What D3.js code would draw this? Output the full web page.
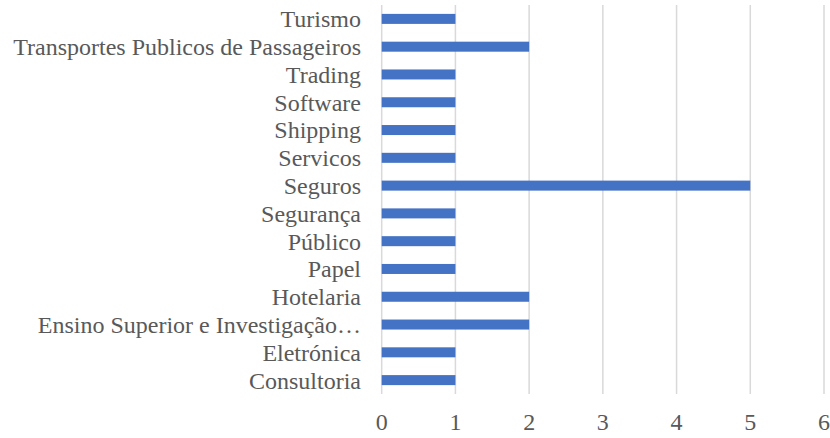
<!DOCTYPE html>
<html lang="pt">
<head>
    <meta charset="UTF-8">
    <title>Setores</title>
    <style>
        body { margin: 0; background: #ffffff; }
        svg { display: block; }
    </style>
    <script src="https://d3js.org/d3.v7.min.js"></script>
</head>
<body>
    <svg width="830" height="438"></svg>
    <script>
        const categories = ["Turismo", "Transportes Publicos de Passageiros", "Trading", "Software",
            "Shipping", "Servicos", "Seguros", "Segurança", "Público", "Papel", "Hotelaria",
            "Ensino Superior e Investigação…", "Eletrónica", "Consultoria"];
        const values = [1, 2, 1, 1, 1, 1, 5, 1, 1, 1, 2, 2, 1, 1];
        const ticks = [0, 1, 2, 3, 4, 5, 6];

        const svg = d3.select("svg");
        const plotLeft = 381.7, plotRight = 824, plotTop = 5, plotBottom = 394;
        const font = "Liberation Serif";

        const x = d3.scaleLinear().domain([0, 6]).range([plotLeft, plotRight]);
        const y = d3.scaleBand().domain(categories).range([plotTop, plotBottom]).paddingInner(0.64).paddingOuter(0.32);

        // gridlines
        svg.append("g").selectAll("line")
            .data(ticks)
            .join("line")
            .attr("x1", d => x(d)).attr("x2", d => x(d))
            .attr("y1", plotTop).attr("y2", plotBottom)
            .attr("stroke", "#d9d9d9")
            .attr("stroke-width", 1.5);

        // bars
        svg.append("g").selectAll("rect")
            .data(categories)
            .join("rect")
            .attr("x", x(0))
            .attr("y", d => y(d))
            .attr("width", (d, i) => x(values[i]) - x(0))
            .attr("height", y.bandwidth())
            .attr("fill", "#4472c4");

        // category labels
        svg.append("g").selectAll("text")
            .data(categories)
            .join("text")
            .attr("x", 361)
            .attr("y", d => y(d) + y.bandwidth() / 2)
            .attr("dy", "0.35em")
            .attr("text-anchor", "end")
            .style("font-family", font)
            .style("font-size", "24px")
            .attr("fill", "#595959")
            .text(d => d);

        // x tick labels
        svg.append("g").selectAll("text")
            .data(ticks)
            .join("text")
            .attr("x", d => x(d))
            .attr("y", 422)
            .attr("dy", "0.35em")
            .attr("text-anchor", "middle")
            .style("font-family", font)
            .style("font-size", "24px")
            .attr("fill", "#595959")
            .text(d => d);
    </script>
</body>
</html>
